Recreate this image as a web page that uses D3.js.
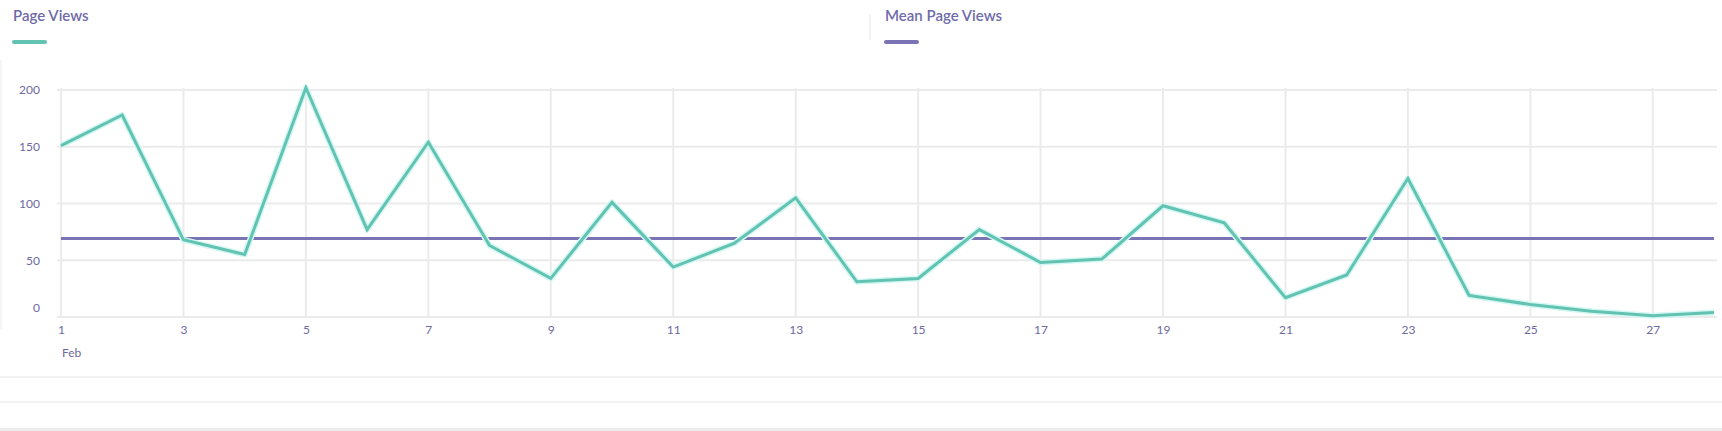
<!DOCTYPE html>
<html>
<head>
<meta charset="utf-8">
<script src="https://cdn.jsdelivr.net/npm/d3@7"></script>
<style>
  html, body { margin: 0; padding: 0; background: #fff; }
  svg { display: block; font-family: Lato, "Open Sans", sans-serif; }
</style>
</head>
<body>
<svg id="chart" width="1722" height="431"></svg>
<script>
// days of February and page views per day
const days = [1, 2, 3, 4, 5, 6, 7, 8, 9, 10, 11, 12, 13, 14, 15, 16, 17, 18, 19, 20, 21, 22, 23, 24, 25, 26, 27, 28];
const pageViews = [151, 178, 68, 55, 202, 77, 154, 63, 34, 101, 44, 65, 105, 31, 34, 77, 48, 51, 98, 83, 17, 37, 122, 19, 11, 5, 1, 4];
const xTicks = [1, 3, 5, 7, 9, 11, 13, 15, 17, 19, 21, 23, 25, 27];
const yTicks = [0, 50, 100, 150, 200];
const seriesNames = ['Page Views', 'Mean Page Views'];
const seriesColors = ['#62c3b3', '#7b74b4'];

const svg = d3.select('#chart');
const labelColor = '#6d6a9f';
const gridColor = '#ebebeb';

const x = d3.scaleLinear().domain([1, 28]).range([61, 1714]);
const y = d3.scaleLinear().domain([0, 200]).range([317, 90]);

// faint container edges
svg.append('line')
  .attr('x1', 1).attr('x2', 1)
  .attr('y1', 60).attr('y2', 330)
  .attr('stroke', '#f2f2f2').attr('stroke-width', 1.5);
svg.append('line')
  .attr('x1', 870).attr('x2', 870)
  .attr('y1', 14).attr('y2', 40)
  .attr('stroke', '#eeeeee').attr('stroke-width', 1.5);

// legend
const legendX = [13, 885];
seriesNames.forEach((name, i) => {
  svg.append('text')
    .attr('x', legendX[i])
    .attr('y', 21)
    .attr('fill', '#6f6aa8')
    .attr('font-size', 15)
    .attr('font-weight', 600)
    .text(name);
  svg.append('line')
    .attr('x1', legendX[i] + 1)
    .attr('x2', legendX[i] + 32)
    .attr('y1', 42)
    .attr('y2', 42)
    .attr('stroke', seriesColors[i])
    .attr('stroke-width', 4)
    .attr('stroke-linecap', 'round');
});

// grid
const grid = svg.append('g');
grid.selectAll('.hgrid')
  .data(yTicks)
  .join('line')
  .attr('class', 'hgrid')
  .attr('x1', 57)
  .attr('x2', 1717)
  .attr('y1', d => y(d))
  .attr('y2', d => y(d))
  .attr('stroke', gridColor)
  .attr('stroke-width', 2);

grid.selectAll('.vgrid')
  .data(xTicks)
  .join('line')
  .attr('class', 'vgrid')
  .attr('x1', d => x(d))
  .attr('x2', d => x(d))
  .attr('y1', y(200) - 2)
  .attr('y2', y(0) + 1)
  .attr('stroke', gridColor)
  .attr('stroke-width', 2);

// y axis
const yAxis = svg.append('g')
  .attr('transform', 'translate(40,0)')
  .call(d3.axisLeft(y).tickValues(yTicks).tickSize(0).tickPadding(0));
yAxis.select('.domain').remove();
yAxis.selectAll('text')
  .attr('fill', labelColor)
  .attr('font-size', 12)
  .attr('font-family', 'Lato, sans-serif')
  .attr('dy', d => d === 0 ? '-0.45em' : '0.32em');

// x axis
const xAxis = svg.append('g')
  .attr('transform', `translate(0,${y(0) + 8})`)
  .call(d3.axisBottom(x).tickValues(xTicks).tickSize(0).tickPadding(0));
xAxis.select('.domain').remove();
xAxis.selectAll('text')
  .attr('fill', labelColor)
  .attr('font-size', 12)
  .attr('font-family', 'Lato, sans-serif');

svg.append('text')
  .attr('x', x(1) + 1)
  .attr('y', 357)
  .attr('fill', labelColor)
  .attr('font-size', 12)
  .text('Feb');

// mean line
const meanViews = d3.mean(pageViews);
svg.append('line')
  .attr('x1', x(1))
  .attr('x2', x(28))
  .attr('y1', y(meanViews))
  .attr('y2', y(meanViews))
  .attr('stroke', seriesColors[1])
  .attr('stroke-width', 3);

// page views line with a soft halo
const line = d3.line()
  .x((d, i) => x(days[i]))
  .y(d => y(d));

svg.append('path')
  .datum(pageViews)
  .attr('d', line)
  .attr('fill', 'none')
  .attr('stroke', '#d3f7f2')
  .attr('stroke-width', 6)
  .attr('stroke-linejoin', 'round');

svg.append('path')
  .datum(pageViews)
  .attr('d', line)
  .attr('fill', 'none')
  .attr('stroke', seriesColors[0])
  .attr('stroke-width', 3)
  .attr('stroke-linejoin', 'miter');

// container borders below the chart
svg.append('line')
  .attr('x1', 0).attr('x2', 1722)
  .attr('y1', 377).attr('y2', 377)
  .attr('stroke', '#eeeeee').attr('stroke-width', 1.5);
svg.append('line')
  .attr('x1', 0).attr('x2', 1722)
  .attr('y1', 402).attr('y2', 402)
  .attr('stroke', '#eeeeee').attr('stroke-width', 1.5);
svg.append('rect')
  .attr('x', 0).attr('y', 428)
  .attr('width', 1722).attr('height', 3)
  .attr('fill', '#ececec');
</script>
</body>
</html>
